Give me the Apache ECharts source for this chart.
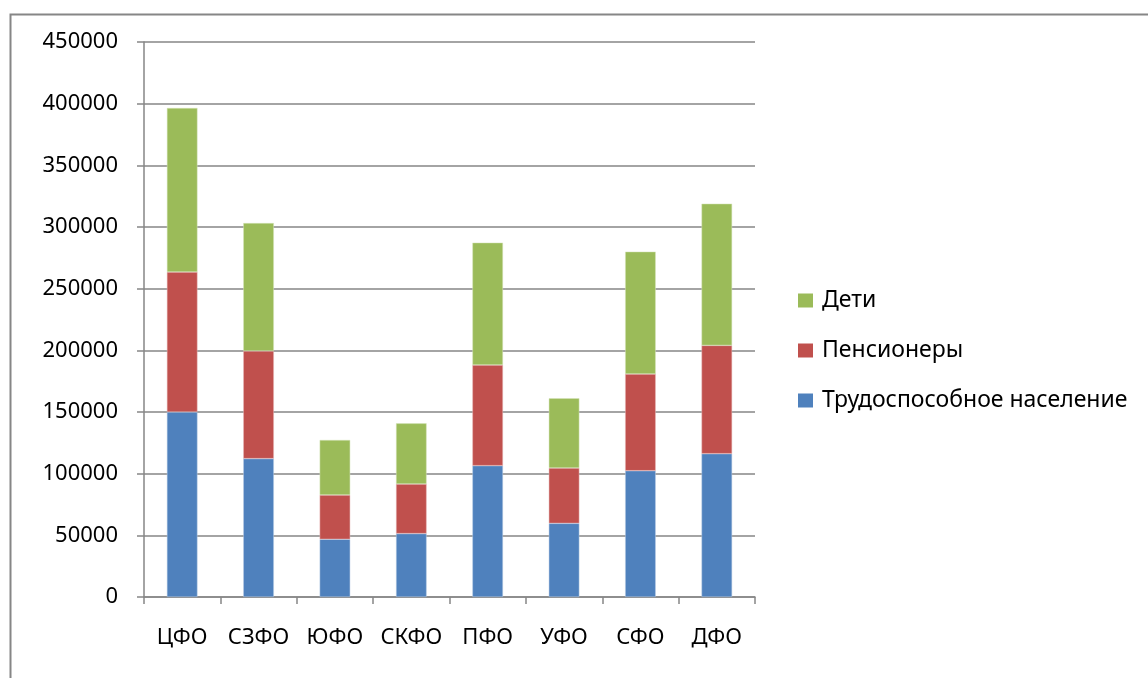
<!DOCTYPE html>
<html>
<head>
<meta charset="utf-8">
<script src="https://cdn.jsdelivr.net/npm/echarts@6/dist/echarts.min.js"></script>
<style>
html,body{margin:0;padding:0;background:#fff;}
#chart{width:1148px;height:678px;}
</style>
</head>
<body>
<div id="chart"></div>
<script>
const categories = ['ЦФО','СЗФО','ЮФО','СКФО','ПФО','УФО','СФО','ДФО'];
const workingAge = [150000,112200,46800,51400,106500,59700,102400,116200];
const pensioners = [113500,87300,35900,40200,81600,44900,78400,87800];
const children = [133000,103700,44600,49200,99200,56500,99200,114900];
const seriesNames = ['Трудоспособное население','Пенсионеры','Дети'];
const yTicks = {min:0, max:450000, interval:50000};

const font = '"Noto Sans", "DejaVu Sans", sans-serif';
const chart = echarts.init(document.getElementById('chart'), null, {renderer:'canvas'});
const gray = '#868686';
chart.setOption({
  animation:false,
  backgroundColor:'#fff',
  graphic:[{
    type:'rect', left:8, top:12,
    shape:{x:0,y:0,width:1200,height:700},
    style:{fill:'none', stroke:gray, lineWidth:2}
  }],
  grid:{left:144, right:393, top:42, bottom:81, containLabel:false},
  legend:{
    orient:'vertical', left:798, top:289, padding:0,
    data:[seriesNames[2], seriesNames[1], seriesNames[0]],
    icon:'rect', itemWidth:15, itemHeight:14, itemGap:27,
    itemStyle:{borderWidth:0},
    textStyle:{fontFamily:font, fontSize:23, lineHeight:23, color:'#000', padding:[0,0,0,4]}
  },
  xAxis:{
    type:'category', data:categories,
    axisLine:{show:true, lineStyle:{color:gray, width:1.5}},
    axisTick:{show:true, length:7, alignWithLabel:false, lineStyle:{color:gray, width:1.5}},
    axisLabel:{fontFamily:font, fontSize:22, color:'#000', margin:30, interval:0}
  },
  yAxis:{
    type:'value', min:yTicks.min, max:yTicks.max, interval:yTicks.interval,
    axisLine:{show:true, lineStyle:{color:gray, width:1.5}},
    axisTick:{show:true, length:7, lineStyle:{color:gray, width:1.5}},
    splitLine:{show:true, lineStyle:{color:gray, width:1.5}},
    axisLabel:{fontFamily:font, fontSize:22, color:'#000', margin:26, formatter:function(v){return String(v);}}
  },
  series:[
    {name:seriesNames[0], type:'bar', stack:'t', data:workingAge, barWidth:'40%',
     itemStyle:{color:'#4F81BD', borderColor:'#B9CDE5', borderWidth:0.5}},
    {name:seriesNames[1], type:'bar', stack:'t', data:pensioners, barWidth:'40%',
     itemStyle:{color:'#C0504D', borderColor:'#E6B9B8', borderWidth:0.5}},
    {name:seriesNames[2], type:'bar', stack:'t', data:children, barWidth:'40%',
     itemStyle:{color:'#9BBB59', borderColor:'#D7E4BD', borderWidth:0.5}}
  ]
});
</script>
</body>
</html>
